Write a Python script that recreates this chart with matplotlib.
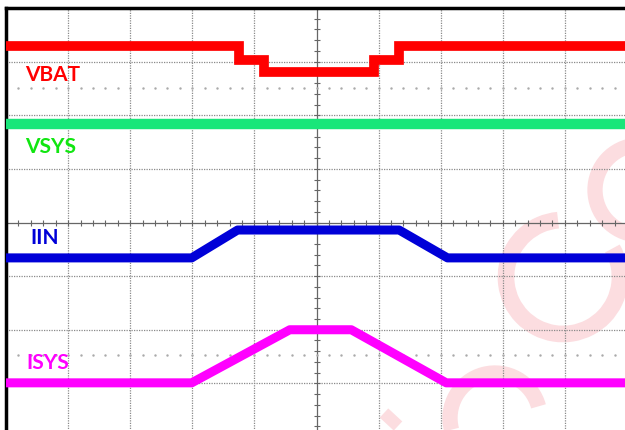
import numpy as np
import matplotlib.pyplot as plt
from matplotlib.patches import Arc

# scope screen: 10 div horizontally, 8 div vertically (time / div units)
vbat_t = [0, 3.76, 4.16, 5.93, 6.33, 10]
vbat_v = [7.29, 7.03, 6.81, 7.03, 7.29, 7.29]

vsys_t = [0, 10]
vsys_v = [5.84, 5.84]

iin_t = [0, 2.99, 3.73, 6.33, 7.11, 10]
iin_v = [3.34, 3.34, 3.86, 3.86, 3.34, 3.34]

isys_t = [0, 2.99, 4.57, 5.56, 7.09, 10]
isys_v = [1.01, 1.01, 2.0, 2.0, 1.01, 1.01]

labels = ['VBAT', 'VSYS', 'IIN', 'ISYS']
label_x = [0.3, 0.3, 0.39, 0.33]
label_y = [6.75, 5.41, 3.71, 1.38]
colors = ['#ff0000', '#19e67a', '#0000d8', '#ff00ff']
text_colors = ['#ff0000', '#11e611', '#0000d8', '#ff00ff']

fig = plt.figure(figsize=(6.25, 4.3), dpi=100)
fig.patch.set_facecolor('white')

# watermark layer (pixel coords, y up)
wm = fig.add_axes([0, 0, 1, 1], zorder=0)
wm.set_xlim(0, 625)
wm.set_ylim(0, 430)
wm.axis('off')
pink = '#fcdde0'
wm.add_patch(Arc((563, 153), 114, 114, theta1=95, theta2=390, color=pink, lw=12))
wm.add_patch(Arc((640, 240), 90, 90, theta1=95, theta2=265, color=pink, lw=11))
wm.add_patch(Arc((495, 12), 90, 90, theta1=15, theta2=195, color=pink, lw=11))
wm.plot([384, 398], [17, 4], color=pink, lw=9, solid_capstyle='butt')

ax = fig.add_axes([6 / 625, -7 / 430, 621 / 625, 429 / 430], zorder=1)
ax.patch.set_alpha(0)
ax.set_xlim(0, 10)
ax.set_ylim(0, 8)
ax.set_xticks([])
ax.set_yticks([])
for s in ['right', 'bottom']:
    ax.spines[s].set_visible(False)
for s in ['left', 'top']:
    ax.spines[s].set_linewidth(2.5)
    ax.spines[s].set_color('black')

# graticule
for gx in range(1, 10):
    if gx != 5:
        ax.axvline(gx, color='#8a8a8a', lw=0.9, ls=(0, (1, 1)), zorder=1)
for gy in range(1, 8):
    if gy != 4:
        ax.axhline(gy, color='#8a8a8a', lw=0.9, ls=(0, (1, 1)), zorder=1)
ax.axvline(5, color='#666666', lw=0.9, zorder=1)
ax.axhline(4, color='#666666', lw=0.9, zorder=1)
tx = np.arange(0, 10.01, 0.2)
ty = np.arange(0, 8.01, 0.2)
ax.plot(tx, [4] * len(tx), ls='none', marker='|', ms=5, mew=0.8, color='#666666', zorder=1)
ax.plot([5] * len(ty), ty, ls='none', marker='_', ms=5, mew=0.8, color='#666666', zorder=1)

# cursor dotted rows
for cy in [6.5, 1.53]:
    ax.plot(tx, [cy] * len(tx), ls='none', marker='.', ms=1.5, color='#aaaaaa', zorder=1)

# traces
ax.plot(vbat_t, vbat_v, drawstyle='steps-post', color=colors[0], lw=7,
        solid_joinstyle='miter', solid_capstyle='butt', zorder=3)
ax.plot(vsys_t, vsys_v, color=colors[1], lw=7.5, solid_capstyle='butt', zorder=3)
ax.plot(iin_t, iin_v, color=colors[2], lw=6.5, solid_capstyle='butt', zorder=3)
ax.plot(isys_t, isys_v, color=colors[3], lw=6.5, solid_capstyle='butt', zorder=3)

for lab, lx, ly, c in zip(labels, label_x, label_y, text_colors):
    ax.text(lx, ly, lab, color=c, fontsize=15, fontweight='bold', family='Lato',
            ha='left', va='center', zorder=4)

fig.savefig('out.png', dpi=100)
